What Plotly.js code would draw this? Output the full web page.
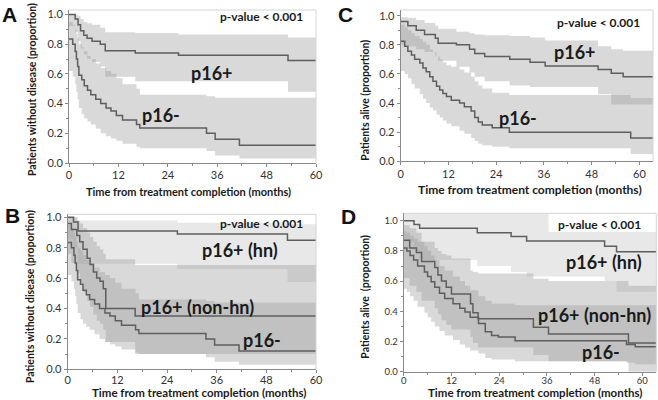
<!DOCTYPE html>
<html>
<head>
<meta charset="utf-8">
<script src="https://cdn.plot.ly/plotly-3.0.1.min.js"></script>
<style>html,body{margin:0;padding:0;background:#fff;}#chart{width:658px;height:400px;}</style>
</head>
<body>
<div id="chart"></div>
<script>
// ---------- Panel A: disease-free, p16+ vs p16- ----------
const A_pos_t  = [0, 1.5, 2.2, 2.8, 3.6, 4.4, 5.6, 7.6, 8.8, 16.1, 26.6, 53.2, 60];
const A_pos_s  = [1.0, 0.97, 0.93, 0.89, 0.86, 0.84, 0.82, 0.80, 0.755, 0.74, 0.725, 0.69, 0.69];
const A_pos_hi = [1.0, 1.0, 0.99, 0.97, 0.95, 0.94, 0.93, 0.91, 0.88, 0.875, 0.865, 0.845, 0.845];
const A_pos_lo = [0.92, 0.88, 0.82, 0.77, 0.73, 0.70, 0.68, 0.65, 0.58, 0.55, 0.55, 0.48, 0.48];

const A_neg_t  = [0, 0.9, 1.5, 1.8, 2.1, 2.4, 3.1, 3.7, 4.5, 5.3, 6.5, 7.7, 9.0, 10.2, 11.5, 13.0, 16.4, 17.2, 33.4, 35.5, 41.4, 60];
const A_neg_s  = [0.835, 0.80, 0.75, 0.70, 0.65, 0.59, 0.56, 0.52, 0.49, 0.46, 0.43, 0.40, 0.37, 0.35, 0.32, 0.29, 0.26, 0.235, 0.20, 0.16, 0.12, 0.12];
const A_neg_hi = [0.95, 0.93, 0.90, 0.87, 0.84, 0.80, 0.78, 0.75, 0.72, 0.70, 0.67, 0.64, 0.62, 0.60, 0.57, 0.53, 0.50, 0.46, 0.45, 0.44, 0.44, 0.44];
const A_neg_lo = [0.62, 0.58, 0.53, 0.48, 0.43, 0.37, 0.33, 0.30, 0.28, 0.26, 0.23, 0.20, 0.18, 0.165, 0.15, 0.13, 0.11, 0.10, 0.08, 0.05, 0.03, 0.03];

// ---------- Panel B: disease-free, p16+ (hn), p16+ (non-hn), p16- ----------
const B_hn_t  = [0, 1.4, 2.5, 26.5, 53.1, 60];
const B_hn_s  = [1.0, 0.97, 0.91, 0.89, 0.85, 0.85];
const B_hn_hi = [1.0, 1.0, 0.98, 0.965, 0.955, 0.955];
const B_hn_lo = [0.86, 0.80, 0.695, 0.66, 0.575, 0.575];

const B_non_t  = [0, 0.9, 2.2, 2.9, 3.7, 4.7, 5.4, 6.2, 7.0, 7.8, 8.6, 9.2, 16.3, 60];
const B_non_s  = [0.96, 0.92, 0.88, 0.84, 0.79, 0.73, 0.69, 0.64, 0.60, 0.58, 0.53, 0.40, 0.35, 0.35];
const B_non_hi = [1.0, 1.0, 0.98, 0.96, 0.93, 0.90, 0.87, 0.84, 0.81, 0.79, 0.76, 0.725, 0.686, 0.686];
const B_non_lo = [0.76, 0.70, 0.63, 0.57, 0.51, 0.45, 0.41, 0.36, 0.32, 0.30, 0.26, 0.18, 0.10, 0.10];

const B_neg_t = A_neg_t, B_neg_s = A_neg_s, B_neg_hi = A_neg_hi, B_neg_lo = A_neg_lo;

// ---------- Panel C: overall survival, p16+ vs p16- ----------
const C_pos_t  = [0, 1.8, 3.9, 6.0, 8.7, 9.4, 14.0, 17.3, 18.6, 21.1, 27.4, 32.5, 36.3, 49.6, 52.9, 55.9, 63.4];
const C_pos_s  = [0.96, 0.93, 0.90, 0.87, 0.845, 0.81, 0.80, 0.77, 0.74, 0.72, 0.70, 0.68, 0.655, 0.63, 0.605, 0.58, 0.58];
const C_pos_hi = [0.99, 0.985, 0.97, 0.95, 0.93, 0.91, 0.89, 0.88, 0.87, 0.865, 0.86, 0.85, 0.83, 0.79, 0.77, 0.76, 0.76];
const C_pos_lo = [0.80, 0.79, 0.77, 0.75, 0.72, 0.69, 0.65, 0.61, 0.58, 0.55, 0.52, 0.51, 0.51, 0.46, 0.39, 0.39, 0.39];

const C_neg_t  = [0, 1.0, 1.8, 2.7, 3.5, 4.8, 5.6, 6.4, 7.3, 8.1, 9.0, 9.8, 10.6, 11.5, 12.7, 14.8, 16.0, 17.7, 18.6, 19.5, 20.5, 23.0, 27.3, 57.8, 63.4];
const C_neg_s  = [0.825, 0.79, 0.755, 0.73, 0.70, 0.675, 0.64, 0.615, 0.58, 0.55, 0.515, 0.49, 0.465, 0.445, 0.42, 0.40, 0.375, 0.345, 0.30, 0.27, 0.25, 0.23, 0.20, 0.16, 0.16];
const C_neg_hi = [0.94, 0.92, 0.90, 0.88, 0.86, 0.84, 0.82, 0.80, 0.77, 0.75, 0.72, 0.70, 0.68, 0.66, 0.65, 0.63, 0.61, 0.58, 0.55, 0.52, 0.50, 0.47, 0.455, 0.435, 0.435];
const C_neg_lo = [0.62, 0.60, 0.57, 0.53, 0.50, 0.46, 0.43, 0.40, 0.37, 0.35, 0.32, 0.30, 0.28, 0.26, 0.24, 0.21, 0.19, 0.16, 0.14, 0.12, 0.11, 0.10, 0.09, 0.05, 0.05];

// ---------- Panel D: overall survival, p16+ (hn), p16+ (non-hn), p16- ----------
const D_hn_t  = [0, 2.6, 4.0, 18.5, 27.0, 30.9, 36.4, 50.5, 53.5, 63.5];
const D_hn_s  = [1.0, 0.975, 0.95, 0.92, 0.895, 0.865, 0.865, 0.83, 0.795, 0.795];
const D_hn_hi = [1.05, 1.05, 1.05, 1.05, 1.05, 1.05, 0.925, 0.925, 0.925, 0.925];
const D_hn_lo = [0.86, 0.80, 0.74, 0.70, 0.66, 0.63, 0.63, 0.60, 0.53, 0.53];

const D_non_t  = [0, 1.5, 3.2, 4.5, 7.8, 8.6, 9.5, 10.7, 12.0, 16.8, 17.4, 18.7, 32.6, 36.4, 56.5, 63.5];
const D_non_s  = [0.87, 0.82, 0.79, 0.73, 0.69, 0.64, 0.60, 0.56, 0.515, 0.45, 0.39, 0.35, 0.295, 0.25, 0.19, 0.19];
const D_non_hi = [0.97, 0.95, 0.92, 0.86, 0.82, 0.80, 0.78, 0.77, 0.75, 0.67, 0.66, 0.65, 0.615, 0.60, 0.57, 0.57];
const D_non_lo = [0.62, 0.57, 0.53, 0.47, 0.42, 0.38, 0.34, 0.31, 0.28, 0.23, 0.19, 0.16, 0.11, 0.07, 0.0, 0.0];

const D_neg_t  = [0, 0.8, 1.6, 2.5, 3.5, 5.2, 6.0, 6.9, 7.8, 9.0, 10.3, 12.4, 14.1, 15.4, 16.7, 18.8, 20.5, 22.1, 23.8, 28.0, 56.0, 58.2, 63.5];
const D_neg_s  = [0.82, 0.80, 0.77, 0.74, 0.70, 0.66, 0.63, 0.595, 0.56, 0.52, 0.485, 0.45, 0.42, 0.395, 0.36, 0.32, 0.265, 0.24, 0.23, 0.205, 0.18, 0.165, 0.165];
const D_neg_hi = [0.93, 0.92, 0.90, 0.88, 0.86, 0.83, 0.80, 0.77, 0.74, 0.70, 0.67, 0.63, 0.60, 0.57, 0.54, 0.50, 0.47, 0.45, 0.45, 0.44, 0.44, 0.44, 0.44];
const D_neg_lo = [0.55, 0.53, 0.50, 0.47, 0.43, 0.39, 0.36, 0.33, 0.30, 0.27, 0.24, 0.21, 0.18, 0.16, 0.14, 0.12, 0.09, 0.08, 0.08, 0.07, 0.06, 0.05, 0.05];

// ---------- text ----------
const panelLetters = ['A', 'B', 'C', 'D'];
const pText = 'p-value < 0.001';
const yTitleDFS = 'Patients without disease (proportion)';
const yTitleOS = 'Patients alive (proportion)';
const yTitleOS2 = 'Patients alive  (proportion)';
const xTitle = 'Time from treatment completion (months)';
const xTicks = [0, 12, 24, 36, 48, 60];

// ---------- helpers ----------
const LINE = '#5e5e5e';
const BAND = 'rgba(150,150,150,0.36)';
const BAND_LIGHT = 'rgba(150,150,150,0.22)';
function band(t, lo, hi, xa, ya, color) {
  return [
    {x: t, y: lo, xaxis: xa, yaxis: ya, type: 'scatter', mode: 'lines',
     line: {width: 0, shape: 'hv'}, hoverinfo: 'skip'},
    {x: t, y: hi, xaxis: xa, yaxis: ya, type: 'scatter', mode: 'lines',
     line: {width: 0, shape: 'hv'}, fill: 'tonexty', fillcolor: color, hoverinfo: 'skip'}
  ];
}
function curve(t, s, xa, ya) {
  return {x: t, y: s, xaxis: xa, yaxis: ya, type: 'scatter', mode: 'lines',
          line: {color: LINE, width: 1.5, shape: 'hv'}};
}

const traces = [].concat(
  band(A_pos_t, A_pos_lo, A_pos_hi, 'x', 'y', BAND),
  band(A_neg_t, A_neg_lo, A_neg_hi, 'x', 'y', BAND),
  [curve(A_pos_t, A_pos_s, 'x', 'y'), curve(A_neg_t, A_neg_s, 'x', 'y')],

  band(B_hn_t, B_hn_lo, B_hn_hi, 'x2', 'y2', BAND_LIGHT),
  band(B_non_t, B_non_lo, B_non_hi, 'x2', 'y2', BAND),
  band(B_neg_t, B_neg_lo, B_neg_hi, 'x2', 'y2', BAND),
  [curve(B_hn_t, B_hn_s, 'x2', 'y2'), curve(B_non_t, B_non_s, 'x2', 'y2'), curve(B_neg_t, B_neg_s, 'x2', 'y2')],

  band(C_pos_t, C_pos_lo, C_pos_hi, 'x3', 'y3', BAND),
  band(C_neg_t, C_neg_lo, C_neg_hi, 'x3', 'y3', BAND),
  [curve(C_pos_t, C_pos_s, 'x3', 'y3'), curve(C_neg_t, C_neg_s, 'x3', 'y3')],

  band(D_hn_t, D_hn_lo, D_hn_hi, 'x4', 'y4', BAND_LIGHT),
  band(D_non_t, D_non_lo, D_non_hi, 'x4', 'y4', BAND),
  band(D_neg_t, D_neg_lo, D_neg_hi, 'x4', 'y4', BAND),
  [curve(D_hn_t, D_hn_s, 'x4', 'y4'), curve(D_non_t, D_non_s, 'x4', 'y4'), curve(D_neg_t, D_neg_s, 'x4', 'y4')]
);

// ---------- layout ----------
const W = 658, H = 400;
const px = v => v / W, py = v => 1 - v / H;
const AX = '#8a8a8a';
function xAxis(dom, range, anchor, fs, standoff) {
  return {domain: dom, range: range, anchor: anchor, showline: true, linecolor: AX, linewidth: 1,
    ticks: 'outside', ticklen: 3, tickcolor: AX, tickvals: xTicks, ticklabelstandoff: standoff,
    tickfont: {family: 'Lato, sans-serif', size: fs, color: '#333'},
    minor: {dtick: 6, tick0: 0, ticks: 'outside', ticklen: 2, tickcolor: AX},
    showgrid: false, zeroline: false, fixedrange: true};
}
function yAxis(dom, range, anchor, fs) {
  return {domain: dom, range: range, anchor: anchor, showline: true, linecolor: AX, linewidth: 1,
    ticks: 'outside', ticklen: 3, tickcolor: AX, dtick: 0.2, tick0: 0, tickformat: '.1f',
    tickfont: {family: 'Lato, sans-serif', size: fs, color: '#333'},
    minor: {dtick: 0.1, tick0: 0, ticks: 'outside', ticklen: 2, tickcolor: AX},
    showgrid: false, zeroline: false, fixedrange: true};
}
function frame(xa, ya) {
  return [
    {type: 'line', xref: xa + ' domain', yref: ya + ' domain', x0: 0, x1: 1, y0: 1, y1: 1, line: {color: '#d4d4d4', width: 1}},
    {type: 'line', xref: xa + ' domain', yref: ya + ' domain', x0: 1, x1: 1, y0: 0, y1: 1, line: {color: '#d4d4d4', width: 1}}
  ];
}
function txt(text, x, y, size, opts) {
  return Object.assign({text: text, x: px(x), y: py(y), xref: 'paper', yref: 'paper', showarrow: false,
    xanchor: 'center', yanchor: 'middle',
    font: {family: 'Lato, sans-serif', size: size, color: '#1a1a1a', weight: 'bold'}}, opts || {});
}
const letterFont = {family: 'Liberation Sans, Arial', size: 21, color: '#111', weight: 'bold'};

const layout = {
  width: W, height: H, margin: {l: 0, r: 0, t: 0, b: 0},
  paper_bgcolor: '#ffffff', plot_bgcolor: '#ffffff', showlegend: false,
  xaxis:  xAxis([px(69), px(316)], [0, 60], 'y', 11, -1),
  yaxis:  yAxis([py(163), py(10)], [0, 1.03], 'x', 11),
  xaxis2: xAxis([px(67.7), px(316)], [0, 60], 'y2', 11, -3),
  yaxis2: yAxis([py(369.3), py(214.3)], [0, 1.02], 'x2', 11),
  xaxis3: xAxis([px(400.7), px(653)], [0, 63.4], 'y3', 11, -1),
  yaxis3: yAxis([py(161.3), py(10)], [0, 1.039], 'x3', 11),
  xaxis4: xAxis([px(403.7), px(656.3)], [0, 63.5], 'y4', 9.5, -3),
  yaxis4: yAxis([py(371.7), py(213.3)], [0, 1.049], 'x4', 9.5),
  shapes: [].concat(frame('x', 'y'), frame('x2', 'y2'), frame('x3', 'y3'), frame('x4', 'y4')),
  annotations: [
    txt(panelLetters[0], 9, 15, 21, {font: letterFont}),
    txt(panelLetters[1], 12, 215, 21, {font: letterFont}),
    txt(panelLetters[2], 345, 15, 21, {font: letterFont}),
    txt(panelLetters[3], 348, 216, 21, {font: letterFont}),

    // Panel A
    txt(pText, 261.7, 16.7, 12),
    txt('p16+', 211.7, 73.3, 18),
    txt('p16-', 161, 115, 18),
    txt(yTitleDFS, 32, 90, 10.5, {textangle: -90}),
    txt(xTitle, 188, 191, 11),

    // Panel B
    txt(pText, 261.7, 223.3, 12),
    txt('p16+ (hn)', 240, 250, 18),
    txt('p16+ (non-hn)', 197.7, 306.7, 18),
    txt('p16-', 261.7, 340, 18),
    txt(yTitleDFS, 30, 297, 10.5, {textangle: -90}),
    txt(xTitle, 199, 392.3, 11.5),

    // Panel C
    txt(pText, 598.7, 22.7, 12),
    txt('p16+', 574.7, 51.7, 18),
    txt('p16-', 518, 118.3, 18),
    txt(yTitleOS, 364.7, 100, 10.5, {textangle: -90}),
    txt(xTitle, 529.7, 189.3, 12),

    // Panel D
    txt(pText, 599.7, 224, 12),
    txt('p16+ (hn)', 604, 261.7, 18),
    txt('p16+ (non-hn)', 594.7, 315, 18),
    txt('p16-', 600.7, 351.7, 18),
    txt(yTitleOS2, 364.7, 297, 10.5, {textangle: -90}),
    txt(xTitle, 534.7, 392.3, 11.5)
  ]
};

Plotly.newPlot('chart', traces, layout, {staticPlot: true, displayModeBar: false});
</script>
</body>
</html>
